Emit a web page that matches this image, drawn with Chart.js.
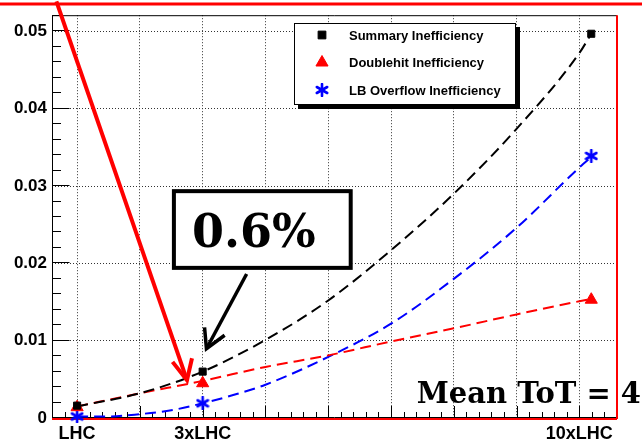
<!DOCTYPE html>
<html>
<head>
<meta charset="utf-8">
<script src="https://cdn.jsdelivr.net/npm/chart.js@4.4.1/dist/chart.umd.min.js"></script>
<style>
  html, body { margin: 0; padding: 0; background: #fff; }
  #wrap { width: 642px; height: 444px; position: relative; }
</style>
</head>
<body>
<div id="wrap"><canvas id="c" width="642" height="444"></canvas></div>
<script>
// Measured inefficiencies at three luminosity scenarios
const categories = ['LHC', '3xLHC', '10xLHC'];
const luminosity = [1, 3, 9.19];
const summaryIneff = [0.0016, 0.006, 0.0497];
const doublehitIneff = [0.0014, 0.0045, 0.0153];
const overflowIneff = [0.0002, 0.0019, 0.0339];

// Dashed fit curves, sampled along the luminosity axis
const summaryFitX = [1, 2, 3, 4, 5, 6, 7, 8, 9, 9.19];
const summaryFitY = [0.0015, 0.0032, 0.006, 0.0101, 0.0152, 0.0217, 0.029, 0.0374, 0.0472, 0.0497];
const doublehitFitX = [1, 2, 3, 4, 5, 6, 7, 8, 9, 9.19];
const doublehitFitY = [0.0015, 0.0032, 0.0048, 0.0066, 0.0081, 0.0099, 0.0116, 0.0134, 0.0151, 0.0154];
const overflowFitX = [1, 1.5, 2, 2.5, 3, 3.5, 4, 5, 6, 7, 8, 9, 9.21];
const overflowFitY = [0.0002, 0.0002, 0.0005, 0.001, 0.0019, 0.003, 0.0043, 0.0079, 0.0122, 0.018, 0.0246, 0.0324, 0.0339];

// Axis ticks
const xTickValues = [1, 2, 3, 4, 5, 6, 7, 8, 9];
const xTickLabels = ['LHC', '', '3xLHC', '', '', '', '', '', '10xLHC'];
const yTickValues = [0, 0.01, 0.02, 0.03, 0.04, 0.05];
const yTickLabels = ['0', '0.01', '0.02', '0.03', '0.04', '0.05'];

// Annotation texts
const noteText = '0.6%';
const tagText = 'Mean ToT = 4';

const SANS = '"Liberation Sans", Arial, Helvetica, sans-serif';
const SERIF = '"DejaVu Serif", "Liberation Serif", serif';

// Asterisk-like star marker
function makeStar(size, color) {
  const cv = document.createElement('canvas');
  cv.width = size; cv.height = size;
  const g = cv.getContext('2d');
  const c = size / 2, r = size / 2 - 1;
  g.strokeStyle = color; g.lineWidth = 2.6; g.lineCap = 'round';
  for (let k = 0; k < 3; k++) {
    const a = Math.PI / 2 + k * Math.PI / 3;
    g.beginPath();
    g.moveTo(c + r * Math.cos(a), c - r * Math.sin(a));
    g.lineTo(c - r * Math.cos(a), c + r * Math.sin(a));
    g.stroke();
  }
  g.fillStyle = color;
  g.beginPath(); g.arc(c, c, 2.5, 0, Math.PI * 2); g.fill();
  return cv;
}
const starMarker = makeStar(14, '#0000ff');

const toPts = (xs, ys) => xs.map((x, i) => ({ x, y: ys[i] }));

const series = [
  { label: 'Summary Inefficiency', color: '#000000', values: summaryIneff, fitX: summaryFitX, fitY: summaryFitY, style: 'rect', radius: 5 },
  { label: 'Doublehit Inefficiency', color: '#ff0000', values: doublehitIneff, fitX: doublehitFitX, fitY: doublehitFitY, style: 'triangle', radius: 7 },
  { label: 'LB Overflow Inefficiency', color: '#0000ff', values: overflowIneff, fitX: overflowFitX, fitY: overflowFitY, style: starMarker, radius: 6 }
];

const datasets = [];
series.forEach(s => {
  datasets.push({
    label: s.label + ' fit',
    data: toPts(s.fitX, s.fitY),
    showLine: true,
    borderColor: s.color,
    borderWidth: 2,
    borderDash: [11, 6],
    cubicInterpolationMode: 'monotone',
    pointRadius: 0,
    order: 2,
    isFit: true
  });
});
series.forEach(s => {
  datasets.push({
    label: s.label,
    data: toPts(luminosity, s.values),
    showLine: false,
    pointStyle: s.style,
    pointRadius: s.radius,
    backgroundColor: s.color,
    borderColor: s.color,
    borderWidth: 1,
    clip: false,
    order: 1
  });
});

// Annotation geometry in data units
const noteBox = { x0: 2.51, x1: 5.39, y0: 0.0296, y1: 0.01916 };
const blackArrow = { from: [3.70, 0.01862], tip: [3.06, 0.00896], wings: [[3.03, 0.01173], [3.35, 0.0107]] };
const redArrow = { from: [0.67, 0.0539], tip: [2.75, 0.0049], wings: [[2.52, 0.00726], [2.83, 0.00773]] };

const decor = {
  id: 'decor',
  beforeDatasetsDraw(chart) {
    const ctx = chart.ctx;
    const { left, right, top, bottom } = chart.chartArea;
    const xs = chart.scales.x, ys = chart.scales.y;
    ctx.save();
    // frame
    ctx.strokeStyle = '#000'; ctx.lineWidth = 1;
    ctx.beginPath();
    ctx.moveTo(left + 0.5, bottom); ctx.lineTo(left + 0.5, top + 0.5); ctx.lineTo(right, top + 0.5);
    ctx.moveTo(left, bottom - 0.5); ctx.lineTo(right, bottom - 0.5);
    ctx.stroke();
    // inward tick marks
    ctx.beginPath();
    for (let k = 0; k * 0.002 <= ys.max + 1e-9; k++) {
      const py = Math.round(ys.getPixelForValue(k * 0.002)) - 0.5;
      const len = k % 5 === 0 ? 17.5 : 9;
      ctx.moveTo(left, py); ctx.lineTo(left + len, py);
    }
    for (let k = Math.ceil(xs.min / 0.2 - 1e-9); k * 0.2 <= xs.max + 1e-9; k++) {
      const px = Math.round(xs.getPixelForValue(k * 0.2)) + 0.5;
      const len = k % 5 === 0 ? 12 : 6;
      ctx.moveTo(px, bottom); ctx.lineTo(px, bottom - len);
    }
    ctx.stroke();
    // red outline on bottom and right edge
    ctx.strokeStyle = '#ff0000'; ctx.lineWidth = 2;
    ctx.beginPath();
    ctx.moveTo(left, bottom + 1); ctx.lineTo(right, bottom + 1);
    ctx.moveTo(right, top); ctx.lineTo(right, bottom + 1);
    ctx.stroke();
    ctx.restore();
  },
  afterDraw(chart) {
    const ctx = chart.ctx;
    const { left, right, top, bottom } = chart.chartArea;
    const xs = chart.scales.x, ys = chart.scales.y;
    const P = (p) => [xs.getPixelForValue(p[0]), ys.getPixelForValue(p[1])];
    ctx.save();

    // legend box with drop shadow
    const lx = 294, ly = 23, lw = 222, lh = 82;
    ctx.fillStyle = '#000';
    ctx.fillRect(lx + 4, ly + 4, lw, lh);
    ctx.fillStyle = '#fff';
    ctx.fillRect(lx, ly, lw, lh);
    ctx.strokeStyle = '#000'; ctx.lineWidth = 1;
    ctx.strokeRect(lx + 0.5, ly + 0.5, lw - 1, lh - 1);
    const markerSets = chart.data.datasets.filter(d => !d.isFit);
    markerSets.forEach((d, i) => {
      const cy = ly + 12 + i * 27.5;
      ctx.fillStyle = d.backgroundColor; ctx.strokeStyle = d.borderColor; ctx.lineWidth = 1;
      Chart.helpers.drawPoint(ctx, { pointStyle: d.pointStyle, radius: d.pointRadius === 5 ? 5.5 : d.pointRadius, rotation: 0, borderWidth: 1 }, 322, cy);
      ctx.fillStyle = '#000';
      ctx.font = 'bold 13px ' + SANS;
      ctx.textBaseline = 'middle'; ctx.textAlign = 'left';
      ctx.fillText(d.label, 349, cy + 1);
    });

    // note box
    const bx0 = xs.getPixelForValue(noteBox.x0), bx1 = xs.getPixelForValue(noteBox.x1);
    const by0 = ys.getPixelForValue(noteBox.y0), by1 = ys.getPixelForValue(noteBox.y1);
    ctx.fillStyle = '#fff';
    ctx.fillRect(bx0, by0, bx1 - bx0, by1 - by0);
    ctx.strokeStyle = '#000'; ctx.lineWidth = 4;
    ctx.strokeRect(bx0 + 2, by0 + 2, bx1 - bx0 - 4, by1 - by0 - 4);
    ctx.fillStyle = '#000';
    ctx.font = 'bold 46px ' + SERIF;
    ctx.textAlign = 'left'; ctx.textBaseline = 'alphabetic';
    ctx.fillText(noteText, bx0 + 20, by0 + 58);

    // arrows
    const drawArrow = (a, color, w) => {
      const f = P(a.from), t = P(a.tip);
      ctx.strokeStyle = color; ctx.lineWidth = w; ctx.lineCap = 'butt'; ctx.lineJoin = 'miter';
      ctx.beginPath(); ctx.moveTo(f[0], f[1]); ctx.lineTo(t[0], t[1]); ctx.stroke();
      const w1 = P(a.wings[0]), w2 = P(a.wings[1]);
      ctx.beginPath(); ctx.moveTo(w1[0], w1[1]); ctx.lineTo(t[0], t[1]); ctx.lineTo(w2[0], w2[1]); ctx.stroke();
    };
    drawArrow(blackArrow, '#000', 3.5);

    // run label
    ctx.fillStyle = '#000';
    ctx.font = 'bold 29px ' + SERIF;
    ctx.textAlign = 'right'; ctx.textBaseline = 'alphabetic';
    ctx.fillText(tagText, chart.width - 1, bottom - 15);

    // red highlight: top rule and arrow
    ctx.strokeStyle = '#ff0000'; ctx.lineWidth = 3;
    ctx.beginPath(); ctx.moveTo(0, 4); ctx.lineTo(chart.width, 4); ctx.stroke();
    drawArrow(redArrow, '#ff0000', 4);

    ctx.restore();
  }
};

new Chart(document.getElementById('c'), {
  type: 'scatter',
  data: { datasets },
  options: {
    responsive: false,
    animation: false,
    devicePixelRatio: 1,
    layout: { padding: { top: 14, right: 25, left: 0, bottom: 0 } },
    plugins: { legend: { display: false }, tooltip: { enabled: false } },
    scales: {
      x: {
        type: 'linear', min: 0.6, max: 9.6,
        afterBuildTicks: s => { s.ticks = xTickValues.map(v => ({ value: v })); },
        afterFit: s => { s.height = 26; },
        ticks: {
          autoSkip: false, maxRotation: 0, padding: 5, color: '#000',
          font: { family: SANS, size: 18, weight: 'bold' },
          callback: v => xTickLabels[xTickValues.indexOf(v)]
        },
        grid: { color: '#333', lineWidth: 1, drawTicks: false },
        border: { display: false, dash: [1, 2] }
      },
      y: {
        type: 'linear', min: 0, max: 0.0521,
        afterBuildTicks: s => { s.ticks = yTickValues.map(v => ({ value: v })); },
        afterFit: s => { s.width = 52; },
        ticks: {
          padding: 5, color: '#000',
          font: { family: SANS, size: 17, weight: 'bold' },
          callback: v => yTickLabels[yTickValues.indexOf(v)]
        },
        grid: { color: c => (c.tick && c.tick.value === 0 ? 'rgba(0,0,0,0)' : '#333'), lineWidth: 1, drawTicks: false },
        border: { display: false, dash: [1, 2] }
      }
    }
  },
  plugins: [decor]
});
</script>
</body>
</html>
